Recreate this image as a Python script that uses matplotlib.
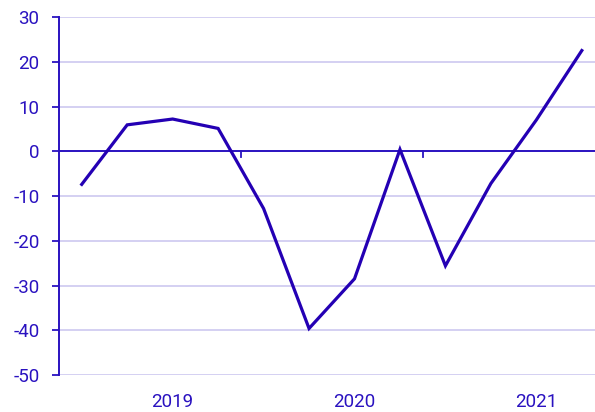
import matplotlib
matplotlib.use("Agg")
import matplotlib.pyplot as plt
import numpy as np

quarters = ["2019Q1", "2019Q2", "2019Q3", "2019Q4",
            "2020Q1", "2020Q2", "2020Q3", "2020Q4",
            "2021Q1", "2021Q2", "2021Q3", "2021Q4"]
values = [-7.4, 5.9, 7.2, 5.1, -12.8, -39.6, -28.5, 0.4, -25.6, -7.2, 7.0, 22.5]
years = ["2019", "2020", "2021"]
yticks = [30, 20, 10, 0, -10, -20, -30, -40, -50]

plt.rcParams['font.family'] = ['Roboto', 'DejaVu Sans']
ink = "#2a12c0"
line_col = "#2400b4"
grid_col = "#d4d0f2"

fig = plt.figure(figsize=(5.95, 4.12), dpi=100)
ax = fig.add_axes([59/595, 1-375/412, 1-59/595, (375-17)/412])

x = np.arange(len(values))
ax.set_xlim(-0.5, 11.29)
ax.set_ylim(-50, 30)

for yv in yticks:
    if yv != 0:
        ax.axhline(yv, color=grid_col, lw=1.4, zorder=1)
ax.axhline(0, color=ink, lw=1.4, zorder=2)

# year boundary ticks on zero line
for b in [3.5, 7.5]:
    ax.plot([b, b], [0, -1.2], color=ink, lw=1.3, zorder=2, clip_on=False)

ax.plot(x, values, color=line_col, lw=2.3, zorder=3, solid_joinstyle='miter')

for s in ['top', 'right', 'bottom']:
    ax.spines[s].set_visible(False)
ax.spines['left'].set_color(ink)
ax.spines['left'].set_linewidth(1.4)

ax.set_yticks(yticks)
ax.set_yticklabels([str(v) for v in yticks])
ax.tick_params(axis='y', colors=ink, labelcolor=ink, length=5, width=1.3, labelsize=13.5, pad=9)

year_pos = [2, 6, 10]
ax.set_xticks(year_pos)
ax.set_xticklabels(years)
ax.tick_params(axis='x', length=0, labelcolor=ink, labelsize=13.5, pad=13)

fig.savefig("out.png", dpi=100)
